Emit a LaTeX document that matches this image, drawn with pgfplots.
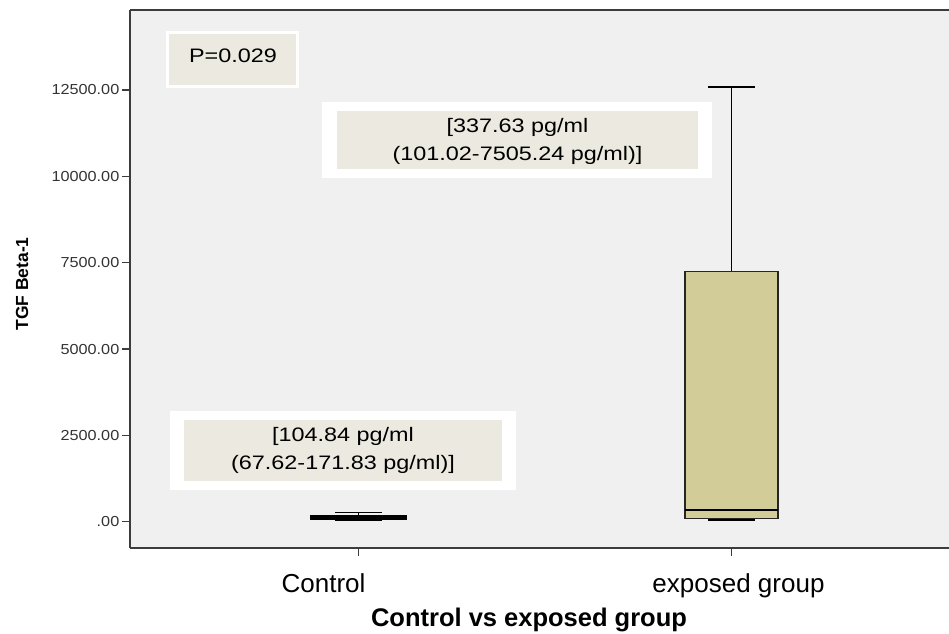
\documentclass[border=0pt]{standalone}
\usepackage{pgfplots}
\pgfplotsset{compat=1.18}
\usepackage{fontspec}
\setmainfont{Liberation Sans}
\newfontfamily\boxfont[FakeStretch=1.2]{Liberation Sans}
\newfontfamily\tickfont[FakeStretch=1.12]{Liberation Sans}
\definecolor{bg}{HTML}{F0F0F0}
\definecolor{beige}{HTML}{ECEAE0}
\definecolor{boxfill}{HTML}{D2CD98}
\definecolor{framec}{HTML}{3C3C3C}
\begin{document}
\begin{tikzpicture}
\useasboundingbox (0bp,0bp) rectangle (949bp,634bp);
\begin{axis}[
  at={(130bp,86bp)}, anchor=south west,
  width=819bp, height=538bp, scale only axis,
  xmin=0.3874, xmax=2.5831, ymin=-761, ymax=14815,
  axis background/.style={fill=bg},
  axis x line=box, axis y line=left,
  every outer x axis line/.append style={-},
  every outer y axis line/.append style={-},
  axis line style={-, draw=framec, line width=1.5bp},
  xtick={1,2}, xticklabels={Control\hspace*{70bp}, \hspace*{14bp}exposed group},
  ytick={0,2500,5000,7500,10000,12500},
  yticklabels={.00,2500.00,5000.00,7500.00,10000.00,12500.00},
  xtick pos=left, ytick pos=left,
  tick align=outside, major tick length=8bp,
  tick style={draw=framec, line width=1.2bp},
  yticklabel style={font=\tickfont\fontsize{14.5bp}{16bp}\selectfont, text=black!80, inner sep=2.5bp},
  xticklabel style={font=\fontsize{26bp}{28bp}\selectfont, anchor=base, yshift=-36bp},
  xlabel={\bfseries Control vs exposed group},
  xlabel style={font=\fontsize{25.5bp}{28bp}\selectfont, at={(rel axis cs:0.4872,-0.1468)}, anchor=base},
  ylabel={\bfseries TGF Beta-1},
  ylabel style={font=\fontsize{17.5bp}{18bp}\selectfont, at={(rel axis cs:-0.1319,0.4907)}, anchor=center, rotate=0},
  clip=false,
]
% Control group
\addplot[draw=black, line width=1.5bp, mark=none] coordinates {(1,171.83) (1,260)};
\addplot[draw=black, line width=1.5bp, mark=none] coordinates {(0.937,260) (1.063,260)};
\addplot[draw=black, line width=1.5bp, mark=none] coordinates {(1,67.62) (1,40)};
\addplot[draw=black, line width=1.5bp, mark=none] coordinates {(0.937,40) (1.063,40)};
\addplot[fill=boxfill, draw=black, line width=1.5bp, mark=none] coordinates {(0.8725,67.62) (1.1275,67.62) (1.1275,171.83) (0.8725,171.83)} -- cycle;
\addplot[draw=black, line width=2.6bp, mark=none] coordinates {(0.8725,104.84) (1.1275,104.84)};
% Exposed group
\addplot[draw=black, line width=1.5bp, mark=none] coordinates {(2,7240) (2,12580)};
\addplot[draw=black, line width=1.5bp, mark=none] coordinates {(1.937,12580) (2.063,12580)};
\addplot[draw=black, line width=1.5bp, mark=none] coordinates {(2,101.02) (2,50)};
\addplot[draw=black, line width=1.5bp, mark=none] coordinates {(1.937,50) (2.063,50)};
\addplot[fill=boxfill, draw=black!85, line width=1.3bp, mark=none] coordinates {(1.875,101.02) (2.125,101.02) (2.125,7240) (1.875,7240)} -- cycle;
\addplot[draw=black, line width=2.6bp, mark=none] coordinates {(1.875,337.63) (2.125,337.63)};
\end{axis}
% annotation boxes
\fill[white] (166bp,546bp) rectangle (299bp,603bp);
\fill[beige] (169bp,549bp) rectangle (296bp,600bp);
\node[font=\boxfont\fontsize{19.5bp}{22bp}\selectfont, inner sep=0] at (233bp,578bp) {P=0.029};
\fill[white] (170bp,144bp) rectangle (516bp,223bp);
\fill[beige] (184bp,153bp) rectangle (502bp,214bp);
\node[font=\boxfont\fontsize{19.5bp}{28bp}\selectfont, align=center, inner sep=0] at (343bp,184bp) {[104.84 pg/ml\\(67.62-171.83 pg/ml)]};
\fill[white] (322bp,456bp) rectangle (712bp,532bp);
\fill[beige] (337bp,465bp) rectangle (698bp,523bp);
\node[font=\boxfont\fontsize{19.5bp}{28bp}\selectfont, align=center, inner sep=0] at (517.5bp,493bp) {[337.63 pg/ml\\(101.02-7505.24 pg/ml)]};
\end{tikzpicture}
\end{document}
